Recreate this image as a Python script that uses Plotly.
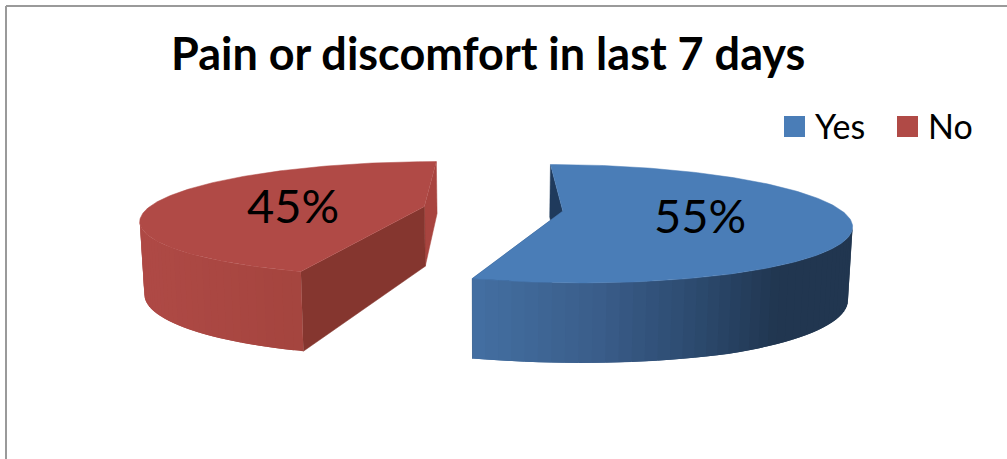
import numpy as np
import plotly.graph_objects as go

# Chart content
title = "Pain or discomfort in last 7 days"
categories = ["Yes", "No"]
percent = [55, 45]
top_colors = ["#4A7DB7", "#B04A46"]
start_cut_colors = ["#1F3A5C", "#85362F"]
stop_cut_colors = ["#1F3A5C", "#A8443F"]

# Colour stops along the curved wall, keyed by screen x
wall_stops = {
    "Yes": ([471, 600, 700, 780, 855], ["#4470A3", "#3A5D8A", "#2C4A6E", "#213650", "#223650"]),
    "No": ([140, 300], ["#AF4A46", "#A5453F"]),
}

# Tilted-disc projection
VANISH_X, HORIZON_Y = 493.0, 208.8
RADIUS_X, RADIUS_Y = 277.0, 55.5
PERSPECTIVE = 0.213
EXPLODE = 0.253
BOTTOM_SHRINK = 0.013
# Wall height against perspective scale
DEPTH_SCALE = [0.82, 1.0, 1.06, 1.25]
DEPTH_PIXELS = [52, 60, 73, 80]


def project(px, py, lower=False):
    scale = 1.0 / (1.0 + PERSPECTIVE * py)
    x = VANISH_X + RADIUS_X * px * scale
    y = HORIZON_Y - RADIUS_Y * py * scale
    if lower:
        x = VANISH_X + (x - VANISH_X) * (1 - BOTTOM_SHRINK)
        y = y + float(np.interp(scale, DEPTH_SCALE, DEPTH_PIXELS))
    return x, y


def hex_rgb(color):
    return np.array([int(color[i:i + 2], 16) for i in (1, 3, 5)], float)


def wall_color(name, x):
    xs, cols = wall_stops[name]
    rgb = [np.interp(x, xs, [hex_rgb(c)[i] for c in cols]) for i in range(3)]
    return "rgb(%d,%d,%d)" % tuple(rgb)


def polygon(xs, ys, color, edge=0.0):
    return go.Scatter(x=list(xs), y=list(ys), mode="lines", fill="toself", fillcolor=color,
                      line=dict(color=color, width=edge), hoverinfo="skip", showlegend=False)


fig = go.Figure()
edges = np.concatenate([[0], np.cumsum(percent)]) / sum(percent) * 2 * np.pi

for i, name in enumerate(categories):
    start, stop = edges[i], edges[i + 1]
    mid = (start + stop) / 2
    cx, cy = EXPLODE * np.sin(mid), EXPLODE * np.cos(mid)
    theta = np.linspace(start, stop, 91)
    ox, oy = cx + np.sin(theta), cy + np.cos(theta)

    # Radial cut faces
    for angle, color in ((stop, stop_cut_colors[i]), (start, start_cut_colors[i])):
        ex, ey = cx + np.sin(angle), cy + np.cos(angle)
        corners = [project(ex, ey), project(ex, ey, True), project(cx, cy, True), project(cx, cy)]
        fig.add_trace(polygon([c[0] for c in corners], [c[1] for c in corners], color, 0.5))

    # Curved outer wall as overlapping strips, only where it faces the viewer.
    # Each strip reaches one step past its neighbour so no seam shows.
    camera_y = -1.0 / PERSPECTIVE
    for k in range(len(theta) - 1):
        m = (theta[k] + theta[k + 1]) / 2
        nx, ny = np.sin(m), np.cos(m)
        if (0 - (cx + nx)) * nx + (camera_y - (cy + ny)) * ny <= 0:
            continue
        n = min(k + 2, len(theta) - 1)
        top = [project(ox[j], oy[j]) for j in range(k, n + 1)]
        low = [project(ox[j], oy[j], True) for j in range(n, k - 1, -1)]
        ring = top + low
        fig.add_trace(polygon([p[0] for p in ring], [p[1] for p in ring],
                              wall_color(name, (top[0][0] + top[1][0]) / 2)))

# Top faces go last so they cover the far side of each wall
for i, name in enumerate(categories):
    start, stop = edges[i], edges[i + 1]
    mid = (start + stop) / 2
    cx, cy = EXPLODE * np.sin(mid), EXPLODE * np.cos(mid)
    theta = np.linspace(start, stop, 181)
    rim = [project(cx + np.sin(t), cy + np.cos(t)) for t in theta]
    apex = project(cx, cy)
    fig.add_trace(polygon([apex[0]] + [p[0] for p in rim] + [apex[0]],
                          [apex[1]] + [p[1] for p in rim] + [apex[1]], top_colors[i], 0.5))

# Value labels
fig.add_trace(go.Scatter(x=[700, 293], y=[221, 211], mode="text",
                         text=["%d%%" % v for v in percent],
                         textfont=dict(family="Lato, sans-serif", size=47, color="#000000"),
                         hoverinfo="skip", showlegend=False))

# Legend row
fig.add_trace(go.Scatter(x=[794.5, 907.5], y=[126.5, 126.5], mode="markers",
                         marker=dict(symbol="square", size=21, color=top_colors, line=dict(width=0)),
                         hoverinfo="skip", showlegend=False))
for label, lx in zip(categories, (813, 926)):
    fig.add_annotation(x=lx, y=125, text=label, showarrow=False, xanchor="left", yanchor="middle",
                       xref="x", yref="y", font=dict(family="Lato, sans-serif", size=34, color="#000000"))

fig.add_annotation(x=488, y=53, text="<b>%s</b>" % title, showarrow=False, xanchor="center",
                   yanchor="middle", xref="x", yref="y",
                   font=dict(family="Lato, sans-serif", size=45, color="#000000"))

# Chart frame: only the top and left edges fall inside the page
fig.add_shape(type="line", x0=6, x1=6, y0=6, y1=459, line=dict(color="#9A9A9A", width=2))
fig.add_shape(type="line", x0=6, x1=1007, y0=6, y1=6, line=dict(color="#9A9A9A", width=2))

fig.update_layout(width=1007, height=459, margin=dict(l=0, r=0, t=0, b=0),
                  paper_bgcolor="#FFFFFF", plot_bgcolor="#FFFFFF", showlegend=False,
                  xaxis=dict(range=[0, 1007], visible=False, fixedrange=True),
                  yaxis=dict(range=[459, 0], visible=False, fixedrange=True))
fig.write_html("out.html", config={"displayModeBar": False})
